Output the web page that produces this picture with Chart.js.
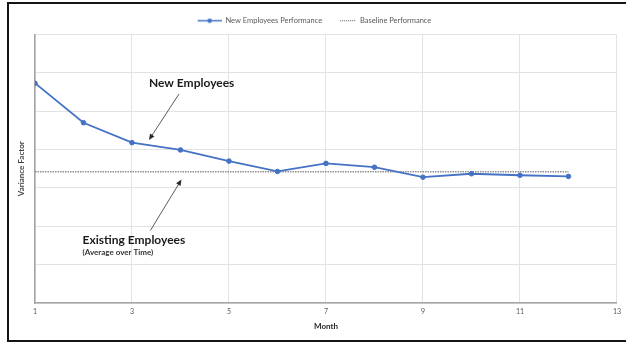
<!DOCTYPE html>
<html>
<head>
<meta charset="utf-8">
<script src="https://cdn.jsdelivr.net/npm/chart.js@4.4.0/dist/chart.umd.min.js"></script>
<style>
  body { margin: 0; background: #fff; overflow: hidden; }
  #wrap { position: relative; width: 626px; height: 345px; overflow: hidden; }
  #frame { position: absolute; left: 7px; top: 2px; width: 640px; height: 336px; border: 2px solid #151515; pointer-events: none; }
</style>
</head>
<body>
<div id="wrap">
  <canvas id="chart" width="626" height="345"></canvas>
  <div id="frame"></div>
</div>
<script>
// month numbers and values
const months = [1, 2, 3, 4, 5, 6, 7, 8, 9, 10, 11, 12];
const newEmployees = [5.73, 4.70, 4.18, 3.99, 3.70, 3.43, 3.64, 3.54, 3.28, 3.37, 3.33, 3.30];
const baselineValue = 3.42;

// callout labels, placed in data units (month, variance)
const calloutTexts = ['New Employees', 'Existing Employees', '(Average over Time)'];
const calloutAt = [[4.23, 5.73], [1.98, 1.63], [1.98, 1.31]];
const arrowFrom = [[3.97, 5.45], [3.38, 1.89]];
const arrowTo = [[3.35, 4.25], [4.02, 3.22]];

const blue = '#4472C4';
const fontFam = 'Lato, "Open Sans", sans-serif';

// legend icons, drawn at the right end of a 29px box
function legendIcon(kind) {
    const c = document.createElement('canvas');
    c.width = 29; c.height = 7;
    const g = c.getContext('2d');
    if (kind === 'line') {
        g.strokeStyle = blue; g.lineWidth = 1.5;
        g.beginPath(); g.moveTo(5, 3.5); g.lineTo(29, 3.5); g.stroke();
        g.fillStyle = blue;
        g.beginPath(); g.arc(17, 3.5, 2.3, 0, Math.PI * 2); g.fill();
    } else {
        g.strokeStyle = '#595959'; g.lineWidth = 1;
        g.setLineDash([1, 1]);
        g.beginPath(); g.moveTo(13, 3.5); g.lineTo(29, 3.5); g.stroke();
    }
    return c;
}
const icons = [legendIcon('line'), legendIcon('dash')];

const callouts = {
    id: 'callouts',
    afterDatasetsDraw(chart) {
        const ctx = chart.ctx;
        const xs = chart.scales.x, ys = chart.scales.y;
        ctx.save();
        // arrows
        ctx.strokeStyle = '#4a4a4a';
        ctx.fillStyle = '#2a2a2a';
        ctx.lineWidth = 0.9;
        for (let i = 0; i < arrowFrom.length; i++) {
            const x0 = xs.getPixelForValue(arrowFrom[i][0]), y0 = ys.getPixelForValue(arrowFrom[i][1]);
            const x1 = xs.getPixelForValue(arrowTo[i][0]), y1 = ys.getPixelForValue(arrowTo[i][1]);
            const a = Math.atan2(y1 - y0, x1 - x0);
            ctx.beginPath(); ctx.moveTo(x0, y0); ctx.lineTo(x1 - 4 * Math.cos(a), y1 - 4 * Math.sin(a)); ctx.stroke();
            ctx.beginPath();
            ctx.moveTo(x1, y1);
            ctx.lineTo(x1 - 6 * Math.cos(a) + 2.6 * Math.sin(a), y1 - 6 * Math.sin(a) - 2.6 * Math.cos(a));
            ctx.lineTo(x1 - 6 * Math.cos(a) - 2.6 * Math.sin(a), y1 - 6 * Math.sin(a) + 2.6 * Math.cos(a));
            ctx.closePath(); ctx.fill();
        }
        // texts
        ctx.fillStyle = '#1a1a1a';
        ctx.textBaseline = 'middle';
        ctx.font = 'bold 12px ' + fontFam;
        ctx.textAlign = 'center';
        ctx.fillText(calloutTexts[0], xs.getPixelForValue(calloutAt[0][0]), ys.getPixelForValue(calloutAt[0][1]));
        ctx.textAlign = 'left';
        ctx.fillText(calloutTexts[1], xs.getPixelForValue(calloutAt[1][0]), ys.getPixelForValue(calloutAt[1][1]));
        ctx.font = 'bold 8px ' + fontFam;
        ctx.fillStyle = '#333';
        ctx.fillText(calloutTexts[2], xs.getPixelForValue(calloutAt[2][0]), ys.getPixelForValue(calloutAt[2][1]));
        ctx.restore();
    }
};

const bgPlugin = {
    id: 'bg',
    beforeDraw(chart) {
        const ctx = chart.ctx;
        ctx.save();
        ctx.fillStyle = '#fff';
        ctx.fillRect(0, 0, chart.width, chart.height);
        ctx.restore();
    }
};

new Chart(document.getElementById('chart').getContext('2d'), {
    type: 'line',
    data: {
        labels: months,
        datasets: [
            {
                label: 'New Employees Performance',
                data: months.map((m, i) => ({ x: m, y: newEmployees[i] })),
                borderColor: blue,
                backgroundColor: blue,
                borderWidth: 1.8,
                pointRadius: 2.3,
                pointBorderWidth: 1,
                pointBackgroundColor: blue,
                pointBorderColor: blue,
                tension: 0
            },
            {
                label: 'Baseline Performance',
                data: months.map(m => ({ x: m, y: baselineValue })),
                borderColor: '#595959',
                borderWidth: 1,
                borderDash: [1.5, 1],
                pointRadius: 0,
                tension: 0
            }
        ]
    },
    options: {
        responsive: false,
        animation: false,
        devicePixelRatio: 1,
        layout: { padding: { left: 0, right: 2, top: 12, bottom: 0 } },
        plugins: {
            legend: {
                position: 'top',
                labels: {
                    usePointStyle: true,
                    pointStyleWidth: 29,
                    boxHeight: 7,
                    padding: 5,
                    color: '#595959',
                    font: { family: fontFam, size: 7.5 },
                    generateLabels(chart) {
                        return chart.data.datasets.map((ds, i) => ({
                            text: ds.label,
                            pointStyle: icons[i],
                            fillStyle: 'transparent',
                            strokeStyle: 'transparent',
                            lineWidth: 0,
                            fontColor: '#595959',
                            datasetIndex: i
                        }));
                    }
                }
            },
            tooltip: { enabled: false }
        },
        scales: {
            x: {
                type: 'linear',
                min: 1,
                max: 13,
                ticks: { stepSize: 2, color: '#595959', font: { family: fontFam, size: 7 }, padding: 5 },
                grid: { color: '#e3e3e3', drawTicks: false },
                border: { color: '#a6a6a6', width: 1.5 },
                title: { display: true, text: 'Month', color: '#262626', font: { family: fontFam, size: 8, weight: 'bold' }, padding: { top: 0, bottom: 14 } },
                afterFit(scale) { scale.height = 42; }
            },
            y: {
                min: 0,
                max: 7,
                ticks: { stepSize: 1, display: false },
                grid: { color: '#e3e3e3', drawTicks: false },
                border: { color: '#a6a6a6', width: 1.5 },
                title: { display: true, text: 'Variance Factor', color: '#404040', font: { family: fontFam, size: 8, weight: 'bold' }, padding: { top: 17, bottom: 0 } },
                afterFit(scale) { scale.width = 35; }
            }
        }
    },
    plugins: [bgPlugin, callouts]
});
</script>
</body>
</html>
